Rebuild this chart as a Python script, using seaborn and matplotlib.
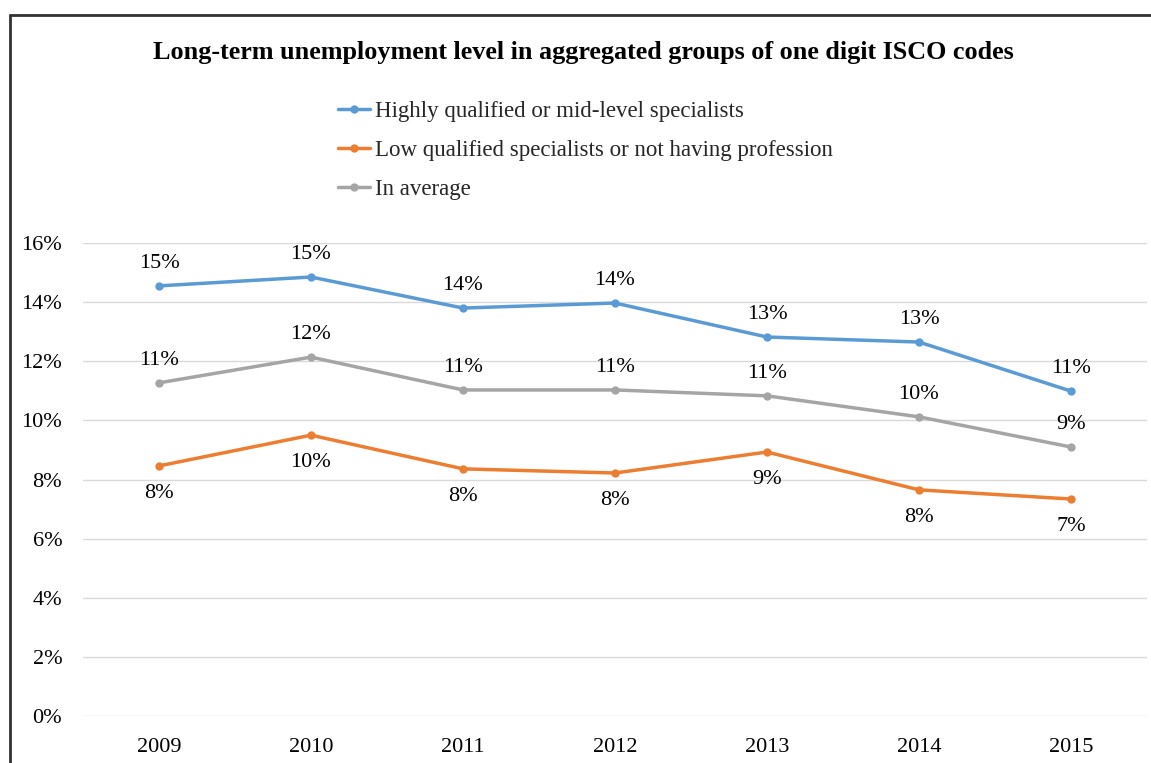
import matplotlib.pyplot as plt
import matplotlib.lines as mlines
import pandas as pd
import seaborn as sns

sns.set_theme(style="whitegrid")
plt.rcParams["font.family"] = ["Liberation Serif", "DejaVu Serif"]

YEARS = ["2009", "2010", "2011", "2012", "2013", "2014", "2015"]
SERIES = [
    "Highly qualified or mid-level specialists",
    "Low qualified specialists or not having profession",
    "In average",
]
HIGH = [14.55, 14.85, 13.80, 13.97, 12.82, 12.65, 10.99]
LOW = [8.46, 9.50, 8.36, 8.22, 8.93, 7.65, 7.34]
AVERAGE = [11.27, 12.14, 11.03, 11.03, 10.83, 10.12, 9.10]
COLORS = ["#5B9BD5", "#ED7D31", "#A5A5A5"]


def build_frame():
    rows = []
    for name, values in zip(SERIES, [HIGH, LOW, AVERAGE]):
        for i, (year, v) in enumerate(zip(YEARS, values)):
            rows.append({"Year": year, "pos": i, "Series": name, "Value": v / 100})
    return pd.DataFrame(rows)


def main():
    df = build_frame()

    fig = plt.figure(figsize=(11.51, 7.63), dpi=100)
    ax = fig.add_axes([0.0721, 0.0616, 0.9244, 0.6199])

    sns.lineplot(
        data=df, x="pos", y="Value", hue="Series", hue_order=SERIES,
        palette=COLORS, marker="o", markersize=6, markeredgewidth=0,
        linewidth=2.5, ax=ax, legend=False,
    )

    # data labels: orange below, others above
    for name, values in zip(SERIES, [HIGH, LOW, AVERAGE]):
        below = name == SERIES[1]
        for i, v in enumerate(values):
            ax.annotate(
                f"{round(v):.0f}%", (i, v / 100),
                xytext=(0, -20 if below else 16), textcoords="offset points",
                ha="center", va="center",
                fontsize=16, color="#000000",
            )

    ax.set_xlim(-0.5, 6.5)
    ax.set_ylim(0, 0.16)
    ax.set_xticks(range(len(YEARS)))
    ax.set_xticklabels(YEARS)
    ax.set_yticks([i / 100 for i in range(0, 17, 2)])
    ax.set_yticklabels([f"{i}%" for i in range(0, 17, 2)])
    ax.tick_params(axis="both", labelsize=16, colors="#000000", length=0)
    ax.tick_params(axis="x", pad=16)
    ax.tick_params(axis="y", pad=15)
    ax.grid(axis="x", visible=False)
    ax.grid(axis="y", color="#D9D9D9", linewidth=1)
    ax.set_xlabel("")
    ax.set_ylabel("")
    for spine in ax.spines.values():
        spine.set_visible(False)

    fig.text(0.5065, 0.931, "Long-term unemployment level in aggregated groups of one digit ISCO codes",
             ha="center", va="center", fontsize=18.8, fontweight="bold", color="#000000")

    handles = [
        mlines.Line2D([], [], color=c, marker="o", markersize=6, markeredgewidth=0, linewidth=2.5)
        for c in COLORS
    ]
    fig.legend(
        handles, SERIES, loc="upper left", bbox_to_anchor=(0.2937, 0.868),
        frameon=False, fontsize=16.5, handlelength=1.4, handletextpad=0.2,
        labelspacing=0.78, borderpad=0, borderaxespad=0,
    )

    # outer frame (top and left edges visible in the crop)
    fig.add_artist(mlines.Line2D([0.0087, 0.0087], [0, 0.98], color="#333333", linewidth=2))
    fig.add_artist(mlines.Line2D([0.0087, 1.0], [0.98, 0.98], color="#333333", linewidth=2))

    fig.savefig("out.png", dpi=100)
    plt.close(fig)


if __name__ == "__main__":
    main()
